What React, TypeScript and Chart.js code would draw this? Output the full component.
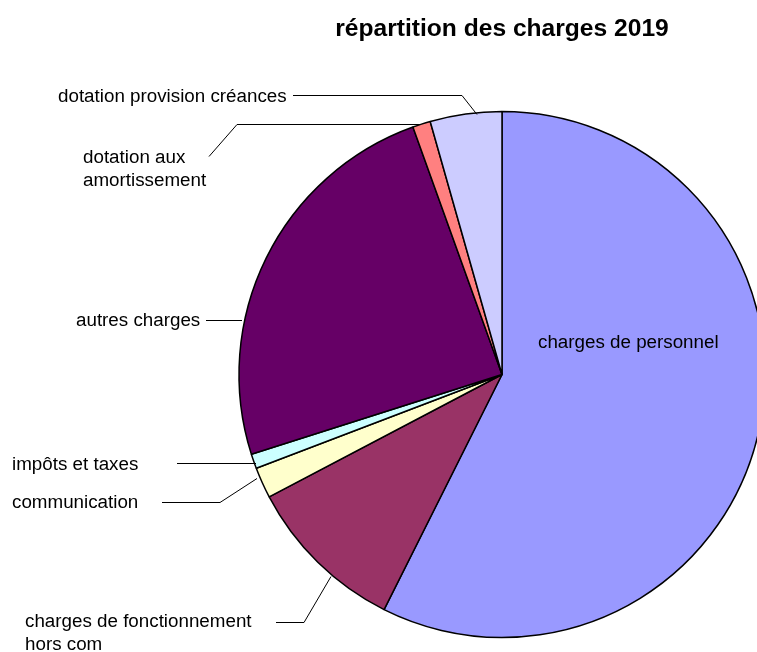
import React, { useEffect, useRef } from 'react';
import { Chart, registerables } from 'chart.js';

Chart.register(...registerables);

const titleText = 'répartition des charges 2019';
const categories = [
  'charges de personnel',
  'charges de fonctionnement hors com',
  'communication',
  'impôts et taxes',
  'autres charges',
  'dotation aux amortissement',
  'dotation provision créances',
];
const values = [57.4, 9.9, 1.9, 0.9, 24.4, 1.1, 4.4];
const colors = ['#9999FF', '#993366', '#FFFFCC', '#CCFFFF', '#660066', '#FF8080', '#CCCCFF'];

// label layout (annotation positions): text lines, anchor, leader polyline
const labelLayout: { lines: string[]; x: number; y: number; leader: number[][] }[] = [
  { lines: ['charges de personnel'], x: 538, y: 343, leader: [] },
  { lines: ['charges de fonctionnement', 'hors com'], x: 25, y: 622, leader: [[276, 622], [304, 622], [331, 576]] },
  { lines: ['communication'], x: 12, y: 503, leader: [[162, 502], [220, 502], [257, 478]] },
  { lines: ['impôts et taxes'], x: 12, y: 465, leader: [[177, 463], [256, 463]] },
  { lines: ['autres charges'], x: 76, y: 321, leader: [[206, 320], [242, 320]] },
  { lines: ['dotation aux', 'amortissement'], x: 83, y: 158, leader: [[209, 156], [237, 124], [421, 124]] },
  { lines: ['dotation provision créances'], x: 58, y: 97, leader: [[293, 95], [462, 95], [477, 114]] },
];

const FONT = '"Liberation Sans", Arial, Helvetica, sans-serif';

const annotationPlugin = {
  id: 'annotations',
  afterDraw(chart: any) {
    const ctx = chart.ctx as CanvasRenderingContext2D;
    const meta = chart.getDatasetMeta(0);
    const arc0 = meta.data[0];
    const cx = arc0 ? arc0.x : 502;
    ctx.save();
    // title
    ctx.fillStyle = '#000';
    ctx.font = `bold 24.6px ${FONT}`;
    ctx.textAlign = 'center';
    ctx.textBaseline = 'middle';
    ctx.fillText(titleText, cx, 29);

    // leader lines
    ctx.strokeStyle = '#000';
    ctx.lineWidth = 1;
    labelLayout.forEach((l) => {
      if (l.leader.length < 2) return;
      ctx.beginPath();
      l.leader.forEach((p, i) => {
        if (i === 0) ctx.moveTo(p[0], p[1] + 0.5);
        else ctx.lineTo(p[0], p[1] + 0.5);
      });
      ctx.stroke();
    });

    // labels
    ctx.font = `18.8px ${FONT}`;
    ctx.textAlign = 'left';
    ctx.textBaseline = 'middle';
    labelLayout.forEach((l) => {
      l.lines.forEach((line, i) => {
        ctx.fillText(line, l.x, l.y + i * 22.5);
      });
    });
    ctx.restore();
  },
};

export default function App() {
  const canvasRef = useRef<HTMLCanvasElement | null>(null);

  useEffect(() => {
    if (!canvasRef.current) return;
    const chart = new Chart(canvasRef.current, {
      type: 'pie',
      data: {
        labels: categories,
        datasets: [
          {
            data: values,
            backgroundColor: colors,
            borderColor: '#000000',
            borderWidth: 1.5,
            clip: false as any,
          } as any,
        ],
      },
      options: {
        responsive: false,
        animation: false,
        radius: 263,
        rotation: 0,
        layout: { padding: { left: 247, right: 0, top: 97, bottom: 0 } },
        plugins: {
          legend: { display: false },
          tooltip: { enabled: false },
          title: { display: false },
        },
        events: [],
      } as any,
      plugins: [annotationPlugin],
    });
    return () => chart.destroy();
  }, []);

  return (
    <div
      style={{
        position: 'absolute',
        left: 0,
        top: 0,
        width: 757,
        height: 652,
        overflow: 'hidden',
        background: '#fff',
      }}
    >
      <canvas ref={canvasRef} width={757} height={652} style={{ width: 757, height: 652, display: 'block' }} />
    </div>
  );
}
